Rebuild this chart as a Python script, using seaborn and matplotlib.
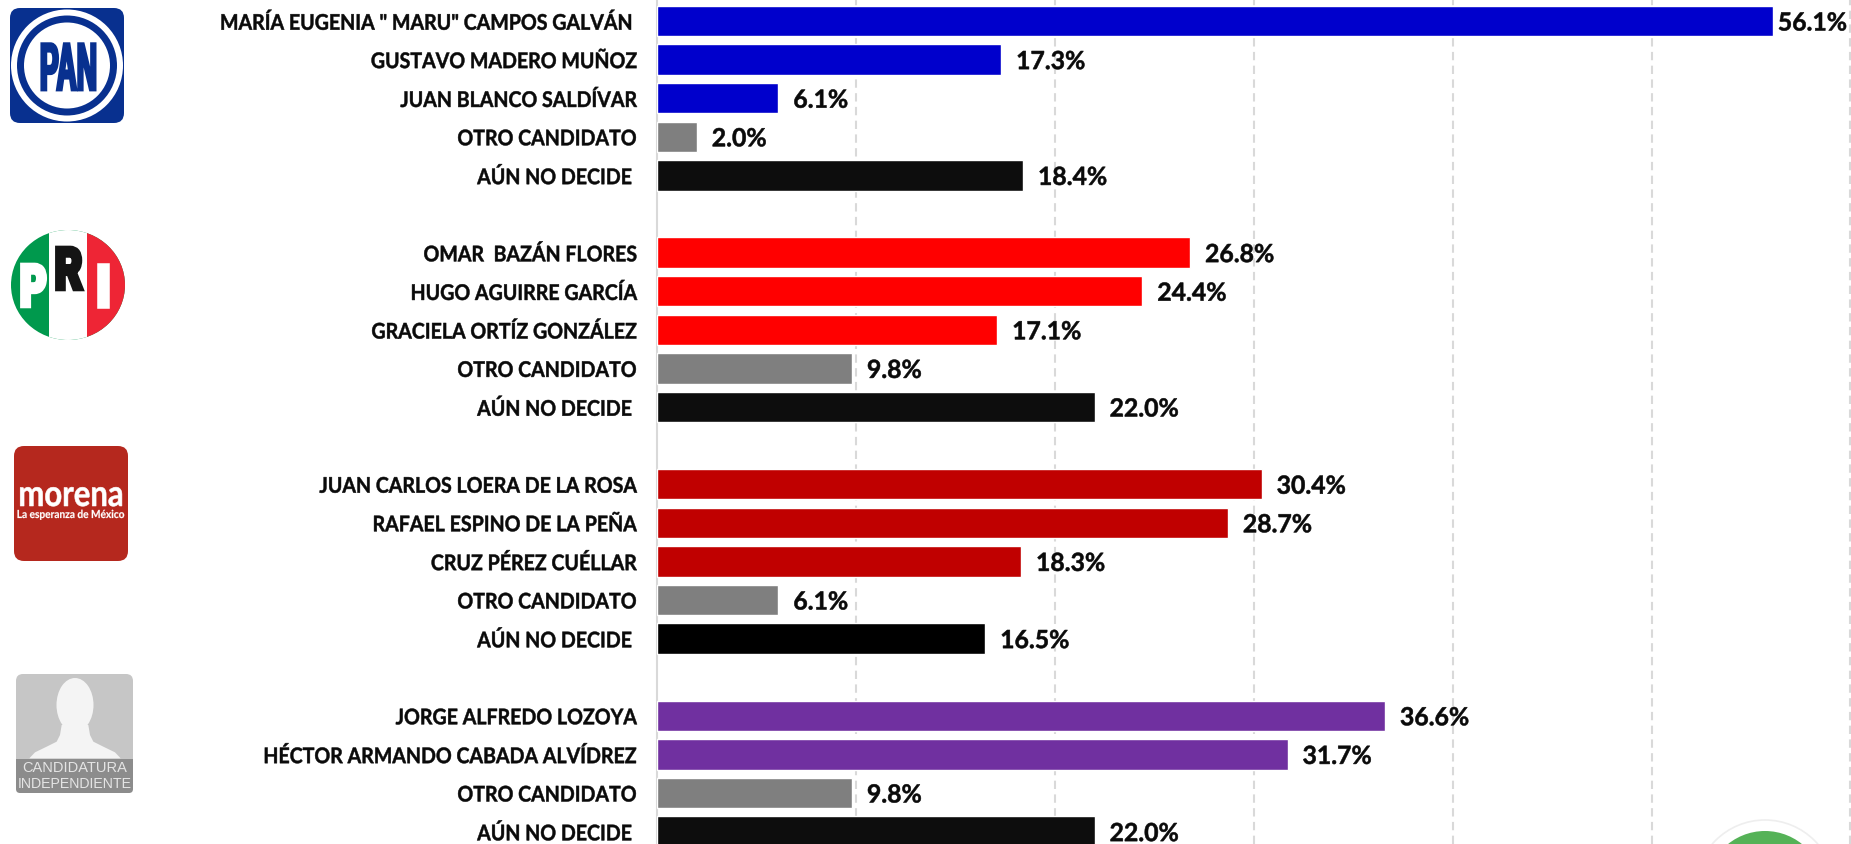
import matplotlib
matplotlib.use("Agg")
import matplotlib.pyplot as plt
import matplotlib.patheffects as pe
from matplotlib.patches import Circle, Ellipse, FancyBboxPatch, Polygon, Rectangle
from matplotlib.transforms import Affine2D
import pandas as pd
import seaborn as sns

# ---------- data ----------
pan_names = ['MARÍA EUGENIA " MARU" CAMPOS GALVÁN ', "GUSTAVO MADERO MUÑOZ", "JUAN BLANCO SALDÍVAR", "OTRO CANDIDATO", "AÚN NO DECIDE "]
pan_values = [56.1, 17.3, 6.1, 2.0, 18.4]
pri_names = ["OMAR  BAZÁN FLORES", "HUGO AGUIRRE GARCÍA", "GRACIELA ORTÍZ GONZÁLEZ", "OTRO CANDIDATO", "AÚN NO DECIDE "]
pri_values = [26.8, 24.4, 17.1, 9.8, 22.0]
morena_names = ["JUAN CARLOS LOERA DE LA ROSA", "RAFAEL ESPINO DE LA PEÑA", "CRUZ PÉREZ CUÉLLAR", "OTRO CANDIDATO", "AÚN NO DECIDE "]
morena_values = [30.4, 28.7, 18.3, 6.1, 16.5]
ind_names = ["JORGE ALFREDO LOZOYA", "HÉCTOR ARMANDO CABADA ALVÍDREZ", "OTRO CANDIDATO", "AÚN NO DECIDE "]
ind_values = [36.6, 31.7, 9.8, 22.0]
groups = [("PAN", pan_names, pan_values), ("PRI", pri_names, pri_values),
          ("MORENA", morena_names, morena_values), ("IND", ind_names, ind_values)]
palette = {"PAN": "#0000CC", "PRI": "#FF0000", "MORENA": "#C00000", "IND": "#7030A0",
           "OTRO": "#7F7F7F", "NODECIDE": "#0D0D0D", "NODECIDE_MORENA": "#000000"}
grid_ticks = [10, 20, 30, 40, 50, 60]

rows, pos = [], 0
for key, names, values in groups:
    for n, v in zip(names, values):
        if n.startswith("OTRO"):
            hue = "OTRO"
        elif n.startswith("AÚN"):
            hue = "NODECIDE_MORENA" if key == "MORENA" else "NODECIDE"
        else:
            hue = key
        rows.append({"pos": pos, "name": n, "value": v, "hue": hue})
        pos += 1
    pos += 1
df = pd.DataFrame(rows)

# ---------- helpers ----------
W, H = 1851, 844


class Squeeze(pe.AbstractPathEffect):
    """Rescale glyphs about a display anchor and thicken them, as the reference's heavy narrow face."""

    def __init__(self, sx, cx, lw=0.0, sy=1.0, cy=0.0):
        super().__init__()
        self.sx, self.cx, self.lw, self.sy, self.cy = sx, cx, lw, sy, cy

    def draw_path(self, renderer, gc, tpath, affine, rgbFace=None):
        t = affine + (Affine2D().translate(-self.cx, -self.cy)
                      .scale(self.sx, self.sy).translate(self.cx, self.cy))
        gc0 = renderer.new_gc()
        gc0.copy_properties(gc)
        if self.lw > 0:
            gc0.set_linewidth(self.lw)
            gc0.set_foreground(rgbFace)
            gc0.set_joinstyle("miter")
        else:
            gc0.set_linewidth(0)
        renderer.draw_path(gc0, tpath, t, rgbFace)
        gc0.restore()


# ---------- chart ----------
sns.set_theme(style="white")
plt.rcParams["font.family"] = ["Lato", "DejaVu Sans"]
fig = plt.figure(figsize=(W / 100, H / 100), dpi=100, facecolor="white")
ax = fig.add_axes([657 / W, 0, (W - 657) / W, 1])
sns.barplot(data=df, x="value", y="pos", hue="hue", palette=palette, orient="y", saturation=1,
            native_scale=True, dodge=False, width=0.79, legend=False, ax=ax, zorder=3)
ax.set_xlim(0, (W - 657) / 19.89)
row_px = 38.6
ax.set_ylim((H - 21) / row_px, -21 / row_px)
ax.set_xlabel("")
ax.set_ylabel("")
ax.set_xticks(grid_ticks)
ax.set_xticklabels([])
ax.tick_params(axis="x", length=0)
ax.xaxis.grid(True, color="#D9D9D9", linewidth=1.5, linestyle=(0, (4, 2.6)), zorder=0)
ax.yaxis.grid(False)
ax.set_axisbelow(True)
for s in ("top", "right", "bottom"):
    ax.spines[s].set_visible(False)
ax.spines["left"].set_color("#D9D9D9")
ax.spines["left"].set_linewidth(1.5)
ax.set_yticks(df["pos"])
ax.set_yticklabels(df["name"], fontsize=15.5, fontweight="bold", color="#0A0A0A")
ax.tick_params(axis="y", length=0, pad=14.4)
for lab in ax.get_yticklabels():
    lab.set_path_effects([Squeeze(0.91, 637, lw=0.35)])

for _, r in df.iterrows():
    off = 5 if r["value"] == df["value"].max() else 15
    t = ax.annotate(f'{r["value"]:.1f}%', (r["value"], r["pos"]), xytext=(off * 0.72, 0),
                    textcoords="offset points", va="center_baseline", ha="left",
                    fontsize=18, fontweight="bold", color="#0A0A0A", zorder=4)
    cx = ax.transData.transform((r["value"], 0))[0] + off
    t.set_path_effects([Squeeze(0.99, cx, lw=0.4)])

# ---------- party logos, drawn in pixel coordinates ----------
lg = fig.add_axes([0, 0, 1, 1], facecolor="none", zorder=5)
lg.set_xlim(0, W)
lg.set_ylim(H, 0)
lg.axis("off")
SANS = ["Liberation Sans", "DejaVu Sans"]


def box(x0, y0, x1, y1, color, rnd=10):
    lg.add_patch(FancyBboxPatch((x0, y0), x1 - x0, y1 - y0,
                                boxstyle=f"round,pad=0,rounding_size={rnd}", fc=color, ec="none"))


def logo_letters(x, base, s, size, sx, sy, lw, color):
    lg.text(x, base, s, family=SANS, fontsize=size, fontweight="bold", color=color,
            ha="center", va="baseline",
            path_effects=[Squeeze(sx, x, lw=lw, sy=sy, cy=H - base)])


# PAN
box(10, 8, 124, 123, "#08308F")
for r_, c in ((56, "white"), (50, "#08308F"), (43, "white")):
    lg.add_patch(Circle((67, 65.5), r_, fc=c, ec="none"))
logo_letters(68.5, 90, "PAN", 24, 0.84, 2.02, 2.0, "#08308F")

# PRI
lg.add_patch(Ellipse((68, 285), 114, 110, fc="#00994D", ec="none"))
clip = Ellipse((68, 285), 114, 110, transform=lg.transData)
lg.add_patch(Rectangle((49, 220), 38, 130, fc="white", ec="none")).set_clip_path(clip)
lg.add_patch(Rectangle((87, 220), 45, 130, fc="#EE2535", ec="none")).set_clip_path(clip)
logo_letters(33, 305.5, "P", 16, 1.7, 2.62, 4.0, "white")
logo_letters(68.5, 288.5, "R", 16, 1.62, 2.62, 4.0, "#141414")
logo_letters(103.5, 306, "I", 16, 2.4, 2.62, 4.0, "white")

# morena
box(14, 446, 128, 561, "#B5281E")
lg.text(71, 506, "morena", fontsize=26, fontweight="bold", color="white", ha="center", va="baseline",
        path_effects=[Squeeze(0.86, 71, lw=0.4)])
lg.text(71, 518, "La esperanza de México", fontsize=8, fontweight="bold", color="white",
        ha="center", va="baseline", path_effects=[Squeeze(0.91, 71, lw=0.15)])

# independent
box(16, 674, 133, 793, "#C6C6C6", rnd=7)
lg.add_patch(Ellipse((75, 705), 37, 54, fc="#F4F4F4", ec="none"))
zx = [88, 105, 140, 170, 180, 185, 265, 270, 280, 310, 345, 362]
zy = [280, 262, 245, 230, 210, 180, 180, 210, 230, 245, 262, 280]
lg.add_patch(Polygon([(a / 3, 665 + b / 3) for a, b in zip(zx, zy)], closed=True, fc="#F4F4F4", ec="none"))
box(16, 759, 133, 793, "#8C8C8C", rnd=4)
lg.add_patch(Rectangle((16, 759), 117, 8, fc="#8C8C8C", ec="none"))
lg.text(75, 767.5, "CANDIDATURA", family=SANS, fontsize=10.5, color="#E4E4E4", ha="center", va="center")
lg.text(75, 784, "INDEPENDIENTE", family=SANS, fontsize=10.2, color="#E4E4E4", ha="center", va="center")

# green badge cut by the lower edge
lg.add_patch(Circle((1765, 890), 70, fc="white", ec="#EEEEEE", lw=1.2))
lg.add_patch(Circle((1765, 890), 59, fc="#55B257", ec="none"))

fig.savefig("out.png", dpi=100, facecolor="white")
